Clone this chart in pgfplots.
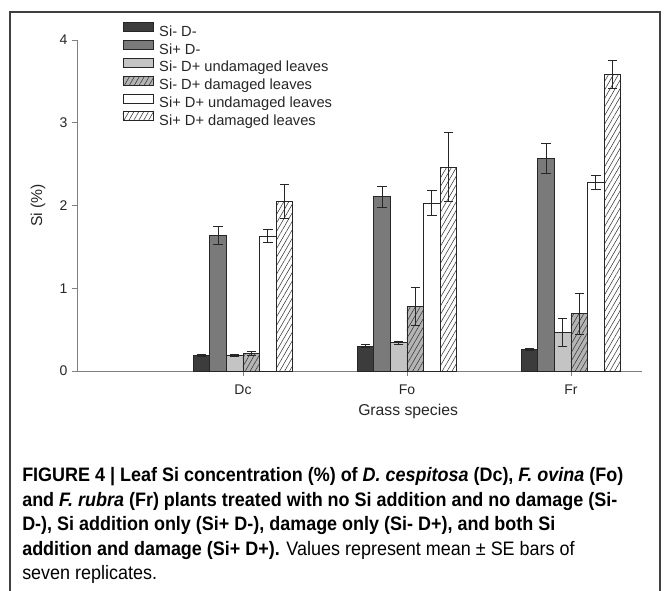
\documentclass[border=0pt]{standalone}
\usepackage{pgfplots}
\pgfplotsset{compat=1.18}
\usepackage{fontspec}
\setmainfont{Liberation Sans}
\newfontfamily\capfont[FakeStretch=0.923]{Liberation Sans}
\usetikzlibrary{patterns.meta}

\definecolor{siDminus}{HTML}{3C3C3C}
\definecolor{siPminus}{HTML}{7A7A7A}
\definecolor{undam}{HTML}{C4C4C4}
\definecolor{dam}{HTML}{B4B4B4}
\definecolor{axisgray}{HTML}{808080}

\pgfplotsset{
  hatch/.style={postaction={pattern={Lines[angle=60,distance=3.2pt,line width=0.4pt]}, pattern color=black!80}},
}

\begin{document}
\begin{tikzpicture}
\useasboundingbox (-57.75pt,-165pt) rectangle (441pt,278.25pt);
\draw[black!75, line width=0.8pt] (-50.25pt,-170pt) -- (-50.25pt,269.25pt) -- (437.25pt,269.25pt) -- (437.25pt,-170pt);

\begin{axis}[
    scale only axis,
    width=423.75pt, height=248.25pt,
    xmin=-1.0122, xmax=2.433,
    ymin=0, ymax=4,
    clip=false,
    ybar=0pt, bar width=12.45pt,
    axis x line*=bottom, axis y line*=left,
    axis line style={axisgray, line width=0.7pt, -},
    xtick={0,1,2}, xticklabels={Dc,Fo,Fr},
    ytick={0,1,2,3,4},
    tick align=outside, major tick length=3.75pt,
    tick style={axisgray, line width=0.7pt},
    ticklabel style={font=\fontsize{10.5}{12}\selectfont, text=black!85},
    xticklabel style={yshift=-3pt},
    /pgf/number format/assume math mode=true,
    xlabel={Grass species},
    xlabel style={at={(axis description cs:0.586,-0.121)}, anchor=center, font=\fontsize{11.8}{13}\selectfont, text=black!85},
    ylabel={Si (\%)},
    ylabel style={at={(axis description cs:-0.069,0.5)}, anchor=center, font=\fontsize{11.8}{13}\selectfont, text=black!85},
    every axis plot/.append style={draw=black!85, line width=0.6pt},
    error bars/y dir=both, error bars/y explicit,
    error bars/error bar style={black!85, line width=0.6pt},
    error bars/error mark options={rotate=90, mark size=3.5pt, black!85, line width=0.6pt},
    legend image code/.code={\draw[#1, line width=0.5pt] (0pt,0.6pt) rectangle (22.5pt,7.4pt);},
    legend cell align=left,
    legend style={at={(rel axis cs:0.0802,1.054)}, anchor=north west, draw=none, fill=none,
      inner sep=0pt, row sep=0.45pt, column sep=4pt, font=\fontsize{11}{12}\selectfont, text=black!85,
      nodes={inner sep=0.5pt, text height=7.5pt, text depth=2pt}},
]
\addplot[fill=siDminus] coordinates {(0,0.19) +- (0,0.015) (1,0.30) +- (0,0.02) (2,0.26) +- (0,0.008)};
\addplot[fill=siPminus] coordinates {(0,1.64) +- (0,0.105) (1,2.105) +- (0,0.13) (2,2.57) +- (0,0.18)};
\addplot[fill=undam] coordinates {(0,0.19) +- (0,0.008) (1,0.34) +- (0,0.015) (2,0.47) +- (0,0.17)};
\addplot[fill=dam, hatch] coordinates {(0,0.215) +- (0,0.025) (1,0.78) +- (0,0.235) (2,0.69) +- (0,0.245)};
\addplot[fill=white] coordinates {(0,1.63) +- (0,0.08) (1,2.03) +- (0,0.15) (2,2.275) +- (0,0.085)};
\addplot[fill=white, hatch] coordinates {(0,2.05) +- (0,0.205) (1,2.465) +- (0,0.42) (2,3.585) +- (0,0.17)};
\legend{Si- D-, Si+ D-, Si- D+ undamaged leaves, Si- D+ damaged leaves, Si+ D+ undamaged leaves, Si+ D+ damaged leaves}
\end{axis}

\begin{scope}[every node/.style={anchor=base west, inner sep=0pt, font=\capfont\fontsize{14.6}{17}\selectfont}]
\node at (-41.25pt,-83.25pt) {\bfseries FIGURE 4 | Leaf Si concentration (\%) of \textit{D. cespitosa} (Dc), \textit{F. ovina} (Fo)};
\node at (-41.25pt,-101.625pt) {\bfseries and \textit{F. rubra} (Fr) plants treated with no Si addition and no damage (Si-};
\node at (-41.25pt,-120pt) {\bfseries D-), Si addition only (Si+ D-), damage only (Si- D+), and both Si};
\node at (-41.25pt,-138.375pt) {\textbf{addition and damage (Si+ D+).} Values represent mean ± SE bars of};
\node at (-41.25pt,-156.75pt) {seven replicates.};
\end{scope}
\end{tikzpicture}
\end{document}
